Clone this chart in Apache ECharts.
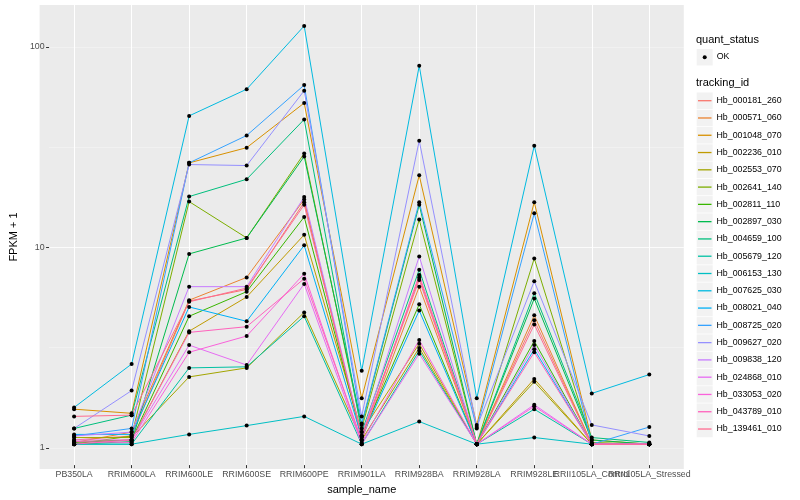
<!DOCTYPE html>
<html>
<head>
<meta charset="utf-8">
<script src="https://cdn.jsdelivr.net/npm/echarts@6/dist/echarts.min.js"></script>
<style>html,body{margin:0;padding:0;background:#fff}#c{width:800px;height:500px}</style>
</head>
<body>
<div id="c"></div>
<script>
// ---- data ----
const categories = ['PB350LA','RRIM600LA','RRIM600LE','RRIM600SE','RRIM600PE','RRIM901LA','RRIM928BA','RRIM928LA','RRIM928LE','RRII105LA_Control','RRII105LA_Stressed'];
const trackingIds = ['Hb_000181_260','Hb_000571_060','Hb_001048_070','Hb_002236_010','Hb_002553_070','Hb_002641_140','Hb_002811_110','Hb_002897_030','Hb_004659_100','Hb_005679_120','Hb_006153_130','Hb_007625_030','Hb_008021_040','Hb_008725_020','Hb_009627_020','Hb_009838_120','Hb_024868_010','Hb_033053_020','Hb_043789_010','Hb_139461_010'];
const Hb_000181_260 = [1.05, 1.10, 5.25, 6.0, 16.5, 1.10, 6.9, 1.0, 4.2, 1.0, 1.0];
const Hb_000571_060 = [1.02, 1.15, 5.3, 6.9, 17.0, 1.05, 6.2, 1.0, 4.45, 1.0, 1.0];
const Hb_001048_070 = [1.50, 1.43, 26.0, 31.0, 52.0, 1.70, 22.5, 1.25, 16.5, 1.05, 1.0];
const Hb_002236_010 = [1.03, 1.05, 3.7, 5.5, 11.3, 1.15, 3.2, 1.0, 2.13, 1.0, 1.0];
const Hb_002553_070 = [1.08, 1.08, 2.18, 2.42, 4.6, 1.05, 3.05, 1.0, 2.06, 1.0, 1.0];
const Hb_002641_140 = [1.00, 1.10, 16.6, 10.9, 29.0, 1.20, 13.5, 1.0, 8.6, 1.02, 1.0];
const Hb_002811_110 = [1.02, 1.05, 4.4, 5.85, 13.9, 1.10, 5.05, 1.0, 3.3, 1.0, 1.0];
const Hb_002897_030 = [1.00, 1.03, 9.06, 10.9, 28.0, 1.25, 16.0, 1.0, 5.4, 1.05, 1.0];
const Hb_004659_100 = [1.20, 1.40, 17.6, 21.5, 43.0, 1.15, 7.55, 1.0, 5.75, 1.08, 1.02];
const Hb_005679_120 = [1.00, 1.00, 2.42, 2.45, 4.4, 1.00, 2.95, 1.0, 1.5, 1.0, 1.0];
const Hb_006153_130 = [1.00, 1.00, 1.12, 1.24, 1.38, 1.00, 1.3, 1.0, 1.08, 1.0, 1.0];
const Hb_007625_030 = [1.53, 2.53, 44.8, 61.0, 127.0, 2.34, 80.0, 1.7, 31.7, 1.8, 2.24];
const Hb_008021_040 = [1.12, 1.12, 4.9, 4.15, 10.0, 1.08, 4.7, 1.0, 3.0, 1.0, 1.0];
const Hb_008725_020 = [1.10, 1.20, 26.0, 35.7, 64.0, 1.27, 16.5, 1.2, 14.5, 1.0, 1.22];
const Hb_009627_020 = [1.20, 1.86, 25.5, 25.2, 60.0, 1.38, 33.6, 1.22, 6.6, 1.25, 1.1];
const Hb_009838_120 = [1.10, 1.15, 6.2, 6.2, 17.5, 1.10, 8.8, 1.0, 3.15, 1.0, 1.0];
const Hb_024868_010 = [1.05, 1.05, 3.15, 2.5, 6.4, 1.00, 2.85, 1.0, 1.58, 1.0, 1.0];
const Hb_033053_020 = [1.03, 1.02, 2.9, 3.5, 7.2, 1.02, 3.34, 1.0, 1.55, 1.0, 1.0];
const Hb_043789_010 = [1.00, 1.05, 3.65, 3.9, 6.8, 1.05, 7.1, 1.0, 2.9, 1.0, 1.0];
const Hb_139461_010 = [1.38, 1.40, 5.2, 6.1, 16.0, 1.10, 6.7, 1.0, 4.0, 1.0, 1.0];
const seriesValues = [Hb_000181_260,Hb_000571_060,Hb_001048_070,Hb_002236_010,Hb_002553_070,Hb_002641_140,Hb_002811_110,Hb_002897_030,Hb_004659_100,Hb_005679_120,Hb_006153_130,Hb_007625_030,Hb_008021_040,Hb_008725_020,Hb_009627_020,Hb_009838_120,Hb_024868_010,Hb_033053_020,Hb_043789_010,Hb_139461_010];
const yTicks = [1, 10, 100];

// ---- style ----
const colors = ['#F8766D','#EA8331','#D89000','#C09B00','#A3A500','#7CAE00','#39B600','#00BB4E','#00BF7D','#00C1A3','#00BFC4','#00BAE0','#00B0F6','#35A2FF','#9590FF','#C77CFF','#E76BF3','#FA62DB','#FF62BC','#FF6C91'];
const FONT = 'Liberation Sans, Arial, sans-serif';
const yMin = 0.7849, yMax = 161.8;
const panelL = 39.6, panelR = 683.8, panelT = 5, panelB = 469;
const catL = 74.1, catR = 649.3;
const rowStep = 17.28, row0 = 100.7;

const chart = echarts.init(document.getElementById('c'), null, {renderer: 'canvas'});

const graphics = [
  {type: 'rect', z: -10, silent: true, shape: {x: panelL, y: panelT, width: panelR - panelL, height: panelB - panelT}, style: {fill: '#EBEBEB'}},
  {type: 'text', left: 696, top: 34, style: {text: 'quant_status', font: '11px ' + FONT, fill: '#000'}},
  {type: 'rect', shape: {x: 696.7, y: 49, width: 16, height: 16.5}, style: {fill: '#F2F2F2'}},
  {type: 'circle', shape: {cx: 704.7, cy: 57.3, r: 2}, style: {fill: '#000'}},
  {type: 'text', left: 716.7, top: 52.5, style: {text: 'OK', font: '8.8px ' + FONT, fill: '#000'}},
  {type: 'text', left: 696, top: 77.5, style: {text: 'tracking_id', font: '11px ' + FONT, fill: '#000'}}
];
trackingIds.forEach((id, i) => {
  graphics.push({type: 'rect', z: -1, shape: {x: 696.7, y: row0 + i * rowStep - 8.25, width: 16, height: 16.5}, style: {fill: '#F2F2F2'}});
});

const series = trackingIds.map((id, i) => ({
  name: id,
  type: 'line',
  xAxisIndex: 0,
  yAxisIndex: 0,
  data: seriesValues[i],
  symbol: 'circle',
  symbolSize: 4,
  showSymbol: true,
  itemStyle: {color: '#000'},
  lineStyle: {color: colors[i], width: 1},
  emphasis: {disabled: true},
  z: 3
}));

const option = {
  animation: false,
  backgroundColor: '#fff',
  textStyle: {fontFamily: FONT},
  graphic: graphics,
  grid: [
    {left: catL, right: 800 - catR, top: panelT, bottom: 500 - panelB, show: false},
    {left: panelL, right: 800 - panelR, top: panelT, bottom: 500 - panelB, show: false}
  ],
  xAxis: [
    {
      type: 'category', gridIndex: 0, data: categories, boundaryGap: false,
      axisLine: {show: false},
      axisTick: {show: true, length: 3, lineStyle: {color: '#333', width: 1}, alignWithLabel: true},
      axisLabel: {interval: 0, hideOverlap: false, color: '#4D4D4D', fontSize: 8.8, margin: 5, fontFamily: FONT},
      splitLine: {show: true, lineStyle: {color: '#FFFFFF', width: 1.07}},
      name: 'sample_name', nameLocation: 'middle', nameGap: 15,
      nameTextStyle: {color: '#000', fontSize: 11, fontFamily: FONT}
    },
    {type: 'value', gridIndex: 1, show: false, min: 0, max: 1}
  ],
  yAxis: [
    {type: 'log', gridIndex: 0, min: yMin, max: yMax, show: false, splitLine: {show: false}},
    {
      type: 'log', gridIndex: 1, min: yMin, max: yMax,
      axisLine: {show: false},
      axisTick: {show: true, length: 3, lineStyle: {color: '#333', width: 1}, customValues: yTicks},
      axisLabel: {color: '#4D4D4D', fontSize: 8.8, margin: 4.5, fontFamily: FONT, customValues: yTicks},
      splitLine: {show: true, showMinLine: false, showMaxLine: false, lineStyle: {color: '#FFFFFF', width: 1.07}},
      name: 'FPKM + 1', nameLocation: 'middle', nameGap: 21,
      nameTextStyle: {color: '#000', fontSize: 11, fontFamily: FONT}
    },
    {
      type: 'log', gridIndex: 1, min: yMin, max: yMax, logBase: Math.sqrt(10),
      axisLine: {show: false}, axisTick: {show: false}, axisLabel: {show: false},
      splitLine: {show: true, showMinLine: false, showMaxLine: false, lineStyle: {color: '#F7F7F7', width: 0.53}}
    }
  ],
  legend: {
    orient: 'vertical', left: 698, top: row0 - rowStep / 2, padding: 0, itemGap: 0,
    icon: 'rect', itemWidth: 13.5, itemHeight: 1.3,
    textStyle: {fontSize: 8.8, color: '#000', fontFamily: FONT, lineHeight: rowStep, height: rowStep},
    selectedMode: false,
    data: trackingIds.map((id, i) => ({name: id, icon: 'rect', itemStyle: {color: colors[i]}}))
  },
  series: series
};
chart.setOption(option);
</script>
</body>
</html>
